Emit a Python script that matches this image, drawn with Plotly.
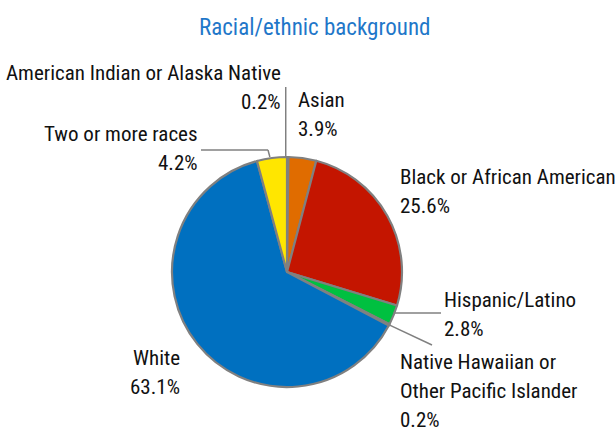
import math
import plotly.graph_objects as go

# ---- data ----
categories = ["American Indian or Alaska Native", "Asian", "Black or African American",
              "Hispanic/Latino", "Native Hawaiian or Other Pacific Islander", "White",
              "Two or more races"]
values = [0.2, 3.9, 25.6, 2.8, 0.2, 63.1, 4.2]
colors = ["#7F7F7F", "#E06C00", "#C41500", "#00C040", "#4F81BD", "#0070C0", "#FFE600"]
label_lines = [["American Indian or Alaska Native"], ["Asian"], ["Black or African American"],
               ["Hispanic/Latino"], ["Native Hawaiian or", "Other Pacific Islander"],
               ["White"], ["Two or more races"]]

W, H = 615, 436
CX, CY, R = 287, 272, 115
FONT = "Roboto Condensed, DejaVu Sans Condensed, sans-serif"

def px(x):
    return x / W

def py(y):
    return 1 - y / H

fig = go.Figure(go.Pie(
    labels=categories, values=values, sort=False, direction="clockwise", rotation=0,
    marker=dict(colors=colors, line=dict(color="#808080", width=2.2)),
    textinfo="none", hoverinfo="label+percent",
    domain=dict(x=[px(CX - R), px(CX + R)], y=[py(CY + R), py(CY - R)]),
    showlegend=False,
))

total = sum(values)
cum = 0
anchors = []
for v in values:
    f = (cum + v / 2) / total
    th = 2 * math.pi * f
    anchors.append((CX + R * math.sin(th), CY - R * math.cos(th)))
    cum += v

# label layout: (x, first-line y, xanchor)
label_pos = [(283, 73, "right"), (296, 100, "left"), (398, 177, "left"),
             (442, 300, "left"), (398, 362, "left"), (182, 358, "right"),
             (200, 134, "right")]
LINE = 29
ann = []
for i, (x, y, xa) in enumerate(label_pos):
    lines = label_lines[i] + [f"{values[i]:.1f}%"]
    for k, t in enumerate(lines):
        ann.append(dict(x=px(x), y=py(y + k * LINE), xref="paper", yref="paper",
                        text=t, showarrow=False, xanchor=xa, yanchor="middle",
                        font=dict(family=FONT, size=21, color="#111111")))

ann.append(dict(x=px(314), y=py(27), xref="paper", yref="paper",
                text="Racial/ethnic background", showarrow=False,
                xanchor="center", yanchor="middle",
                font=dict(family=FONT, size=23, color="#1F77C9")))

shapes = []
def seg(x0, y0, x1, y1):
    shapes.append(dict(type="line", xref="paper", yref="paper",
                       x0=px(x0), y0=py(y0), x1=px(x1), y1=py(y1),
                       line=dict(color="#808080", width=1.5)))

# leader lines from slice edges
ax, ay = anchors[0]
seg(ax - 2, ay, ax - 2, 87)
ax, ay = anchors[6]
seg(ax - 2, ay - 1, 268, 150)
seg(268, 150, 201, 150)
ax, ay = anchors[3]
seg(ax, ay - 2, 441, ay - 2)
ax, ay = anchors[4]
seg(ax, ay, 432, 345)

fig.update_layout(width=W, height=H, margin=dict(l=0, r=0, t=0, b=0),
                  paper_bgcolor="white", plot_bgcolor="white",
                  annotations=ann, shapes=shapes)
fig.write_html("out.html", config={"displayModeBar": False},
               post_script="document.body.style.margin='0px';")
